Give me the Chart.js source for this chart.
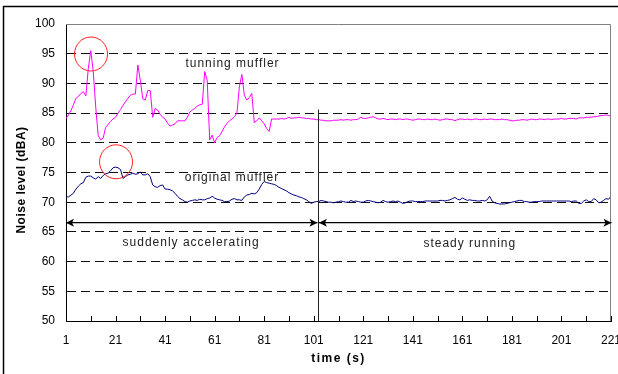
<!DOCTYPE html>
<html>
<head>
<meta charset="utf-8">
<script src="https://cdn.jsdelivr.net/npm/chart.js"></script>
<style>
  body { margin: 0; background: #fff; }
  canvas { display: block; }
</style>
</head>
<body>
<canvas id="grafico" width="618" height="374"></canvas>
<script>
// time axis, one reading per second
var tempo = Array.from({ length: 221 }, (_, i) => i + 1);

var rotulosX = [1, 21, 41, 61, 81, 101, 121, 141, 161, 181, 201, 221];
var marcasX = [1, 11, 21, 31, 41, 51, 61, 71, 81, 91, 101, 111, 121, 131, 141, 151, 161, 171, 181, 191, 201, 211, 221];

// noise level (dBA), tunning muffler
var tunningMuffler = [
  84.1, 84.7, 85.4, 86.4, 87.5, 87.8, 88.3, 88.6, 87.9, 92.5,
  95.5, 92.0, 86.0, 81.2, 80.5, 80.8, 82.6, 83.1, 83.6, 84.0,
  84.3, 85.0, 85.6, 86.3, 86.9, 87.5, 88.0, 88.2, 88.2, 93.1,
  90.5, 87.4, 87.2, 88.8, 88.8, 84.3, 85.8, 85.5, 84.8, 84.3,
  84.0, 83.3, 82.8, 83.0, 83.2, 83.7, 83.7, 83.7, 83.7, 84.3,
  85.2, 85.5, 85.8, 86.2, 86.4, 86.5, 92.0, 90.5, 80.5, 81.3,
  80.0, 80.9, 81.2, 81.9, 82.7, 83.3, 83.7, 84.0, 84.4, 85.0,
  89.5, 91.5, 88.0, 87.2, 87.6, 88.3, 83.4, 83.7, 84.2, 83.7,
  83.2, 82.4, 81.9, 84.0, 84.0, 84.0, 84.0, 84.1, 84.0, 84.1,
  84.3, 84.1, 84.2, 84.2, 84.3, 84.2, 84.2, 84.1, 84.1, 84.0,
  84.0, 83.9, 83.9, 83.8, 83.8, 83.7, 83.7, 83.7, 83.8, 83.8,
  83.8, 83.9, 83.8, 83.9, 83.9, 83.8, 83.9, 83.9, 84.0, 84.3,
  84.1, 84.1, 84.2, 84.3, 84.4, 84.2, 84.0, 84.0, 84.1, 84.0,
  83.9, 84.0, 84.0, 83.9, 84.0, 84.0, 83.9, 84.0, 84.0, 83.9,
  83.8, 83.9, 84.0, 84.0, 83.9, 83.9, 84.0, 83.9, 83.9, 84.0,
  83.9, 83.8, 83.9, 84.0, 84.0, 83.9, 83.9, 83.7, 83.9, 84.0,
  84.0, 83.9, 84.0, 83.9, 83.9, 84.0, 84.0, 83.9, 83.9, 84.0,
  83.9, 84.0, 84.0, 83.9, 83.9, 83.9, 84.0, 83.9, 83.9, 83.8,
  83.7, 83.7, 83.8, 83.8, 83.9, 83.9, 83.8, 83.9, 84.0, 83.9,
  83.9, 84.0, 84.0, 83.9, 84.0, 84.0, 83.9, 84.0, 84.0, 84.0,
  84.1, 84.0, 84.0, 84.1, 84.1, 84.1, 84.0, 84.2, 84.2, 84.2,
  84.3, 84.3, 84.3, 84.4, 84.4, 84.5, 84.6, 84.6, 84.7, 84.6,
  84.5
];

// noise level (dBA), original muffler
var originalMuffler = [
  70.9, 70.9, 71.2, 71.5, 72.2, 72.7, 73.1, 73.3, 74.2, 74.4,
  74.4, 74.1, 73.9, 74.3, 74.0, 74.5, 74.8, 74.9, 75.3, 75.8,
  75.9, 75.8, 75.5, 74.0, 74.3, 74.6, 74.7, 74.9, 74.7, 74.8,
  75.1, 74.6, 74.6, 74.8, 74.3, 72.9, 72.6, 72.5, 72.8, 72.9,
  72.2, 72.2, 72.1, 71.9, 71.5, 71.0, 70.6, 70.4, 70.1, 70.0,
  70.2, 70.3, 70.4, 70.3, 70.5, 70.4, 70.4, 70.6, 70.7, 71.0,
  70.7, 70.5, 70.4, 70.3, 70.1, 70.1, 70.2, 70.5, 70.6, 70.4,
  70.4, 70.3, 70.9, 71.2, 71.3, 71.5, 71.4, 71.6, 72.2, 73.0,
  73.5, 73.3, 73.2, 73.1, 73.0, 72.8, 72.5, 72.3, 72.1, 71.9,
  71.6, 71.4, 71.2, 71.1, 70.9, 70.8, 70.6, 70.4, 70.1, 69.8,
  70.0, 70.1, 70.1, 70.3, 70.2, 70.1, 70.0, 70.0, 69.9, 70.0,
  70.1, 70.2, 70.1, 70.0, 70.0, 70.3, 70.1, 70.2, 70.1, 70.0,
  70.0, 70.2, 70.3, 70.2, 70.1, 70.0, 69.9, 70.0, 70.3, 70.1,
  70.0, 70.1, 70.2, 70.1, 70.2, 70.0, 69.8, 69.9, 70.1, 70.2,
  70.2, 70.1, 70.1, 70.1, 70.1, 70.2, 70.2, 70.2, 70.2, 70.2,
  70.2, 70.3, 70.3, 70.2, 70.3, 70.4, 70.6, 70.8, 70.5, 70.4,
  70.7, 70.5, 70.3, 70.4, 70.3, 70.3, 70.2, 70.2, 70.3, 70.2,
  70.4, 71.0, 70.2, 69.9, 69.8, 69.7, 69.7, 69.7, 69.8, 69.9,
  70.0, 70.1, 70.2, 70.3, 70.3, 70.1, 70.1, 70.0, 70.0, 70.1,
  70.1, 70.1, 70.2, 70.2, 70.2, 70.2, 70.2, 70.2, 70.2, 70.2,
  70.2, 70.2, 70.2, 70.2, 70.1, 70.2, 70.2, 69.8, 69.8, 70.2,
  70.4, 70.1, 70.1, 70.6, 70.4, 69.9, 70.0, 70.3, 70.6, 70.5,
  71.0
];

var fonte = "'Liberation Sans', Arial, sans-serif";

function ponta(ctx, px, py, dir) {
  ctx.beginPath();
  ctx.moveTo(px, py);
  ctx.lineTo(px + dir * 8, py - 4);
  ctx.lineTo(px + dir * 6, py);
  ctx.lineTo(px + dir * 8, py + 4);
  ctx.closePath();
  ctx.fill();
}

function seta(ctx, x1, x2, py) {
  ctx.beginPath();
  ctx.moveTo(x1, py);
  ctx.lineTo(x2, py);
  ctx.stroke();
  ponta(ctx, x1, py, 1);
  ponta(ctx, x2, py, -1);
}

var anotacoes = {
  id: 'anotacoes',
  beforeDraw: function (chart) {
    var ctx = chart.ctx;
    ctx.save();
    ctx.fillStyle = '#fff';
    ctx.fillRect(0, 0, chart.width, chart.height);
    ctx.strokeStyle = '#000';
    ctx.lineWidth = 1.5;
    ctx.strokeRect(3.5, 6.5, chart.width + 20, chart.height + 20);
    ctx.restore();
  },
  afterDraw: function (chart) {
    var ctx = chart.ctx;
    var area = chart.chartArea;
    var x = chart.scales.x;
    var y = chart.scales.y;
    ctx.save();

    // top and right edge of the plot area
    ctx.strokeStyle = '#808080';
    ctx.lineWidth = 1;
    ctx.beginPath();
    ctx.moveTo(area.left, area.top + 0.5);
    ctx.lineTo(area.right - 0.5, area.top + 0.5);
    ctx.lineTo(area.right - 0.5, area.bottom);
    ctx.stroke();

    // tick marks pointing inside
    ctx.strokeStyle = '#000';
    ctx.beginPath();
    marcasX.forEach(function (t) {
      var px = Math.round(x.getPixelForValue(t)) + 0.5;
      ctx.moveTo(px, area.bottom);
      ctx.lineTo(px, area.bottom - 5);
    });
    ctx.stroke();

    // divider between the two phases
    var xDiv = Math.round(x.getPixelForValue(102.8)) + 0.5;
    ctx.strokeStyle = '#222';
    ctx.beginPath();
    ctx.moveTo(xDiv, y.getPixelForValue(85.6));
    ctx.lineTo(xDiv, area.bottom);
    ctx.stroke();

    // arrows
    ctx.strokeStyle = '#000';
    ctx.fillStyle = '#000';
    ctx.lineWidth = 1.3;
    var ySeta = y.getPixelForValue(66.55);
    seta(ctx, x.getPixelForValue(1), x.getPixelForValue(102.5), ySeta);
    seta(ctx, x.getPixelForValue(103.1), x.getPixelForValue(221.2), ySeta);

    // texts
    ctx.fillStyle = '#222';
    ctx.font = '12px ' + fonte;
    ctx.letterSpacing = '1px';
    ctx.textAlign = 'center';
    ctx.textBaseline = 'middle';
    ctx.fillText('tunning muffler', x.getPixelForValue(68.2), y.getPixelForValue(93.3));
    ctx.fillText('original muffler', x.getPixelForValue(68.0), y.getPixelForValue(74.2));
    ctx.fillText('suddenly accelerating', x.getPixelForValue(51.5), y.getPixelForValue(63.1));
    ctx.fillText('steady running', x.getPixelForValue(164.0), y.getPixelForValue(63.0));

    // red circles on the peaks
    ctx.strokeStyle = '#ff2020';
    ctx.lineWidth = 1;
    ctx.beginPath();
    ctx.ellipse(x.getPixelForValue(11.1), y.getPixelForValue(94.95), 16.5, 17, 0, 0, Math.PI * 2);
    ctx.stroke();
    ctx.beginPath();
    ctx.ellipse(x.getPixelForValue(21.2), y.getPixelForValue(76.8), 16.5, 17, 0, 0, Math.PI * 2);
    ctx.stroke();

    // axis titles
    ctx.fillStyle = '#000';
    ctx.font = 'bold 12px ' + fonte;
    ctx.letterSpacing = '0.5px';
    ctx.save();
    ctx.translate(22, 180);
    ctx.rotate(-Math.PI / 2);
    ctx.fillText('Noise level (dBA)', 0, 0);
    ctx.restore();
    ctx.letterSpacing = '1.5px';
    ctx.fillText('time (s)', (area.left + area.right) / 2, 359);

    ctx.restore();
  }
};

var ctx = document.getElementById('grafico').getContext('2d');

var grafico = new Chart(ctx, {
  type: 'line',
  data: {
    labels: tempo,
    datasets: [{
      label: 'tunning muffler',
      data: tunningMuffler,
      borderColor: '#ff00ff',
      borderWidth: 1,
      pointRadius: 0,
      tension: 0
    }, {
      label: 'original muffler',
      data: originalMuffler,
      borderColor: '#000080',
      borderWidth: 1,
      pointRadius: 0,
      tension: 0
    }]
  },
  options: {
    responsive: false,
    animation: false,
    layout: {
      padding: { top: 24, right: 7, bottom: 0, left: 0 }
    },
    plugins: {
      legend: { display: false },
      tooltip: { enabled: false }
    },
    scales: {
      x: {
        type: 'linear',
        min: 1,
        max: 221,
        afterBuildTicks: function (scale) {
          scale.ticks = marcasX.map(function (v) { return { value: v }; });
        },
        afterFit: function (scale) {
          scale.height = 53;
          scale.paddingLeft = 0;
          scale.paddingRight = 0;
        },
        grid: { display: false, drawTicks: false },
        border: { display: true, color: '#000', width: 1 },
        ticks: {
          autoSkip: false,
          maxRotation: 0,
          padding: 12,
          color: '#000',
          font: { family: fonte, size: 12 },
          callback: function (v) {
            return rotulosX.indexOf(v) >= 0 ? String(v) : '';
          }
        }
      },
      y: {
        min: 50,
        max: 100,
        afterFit: function (scale) {
          scale.width = 66;
        },
        grid: {
          drawTicks: false,
          lineWidth: 1,
          color: function (c) {
            var v = c.tick ? c.tick.value : 0;
            return (v > 50 && v < 100) ? '#111' : 'rgba(0,0,0,0)';
          }
        },
        border: { display: true, color: '#000', width: 1, dash: [9, 5] },
        ticks: {
          stepSize: 5,
          padding: 11,
          color: '#000',
          font: { family: fonte, size: 12 }
        }
      }
    }
  },
  plugins: [anotacoes]
});
</script>
</body>
</html>
